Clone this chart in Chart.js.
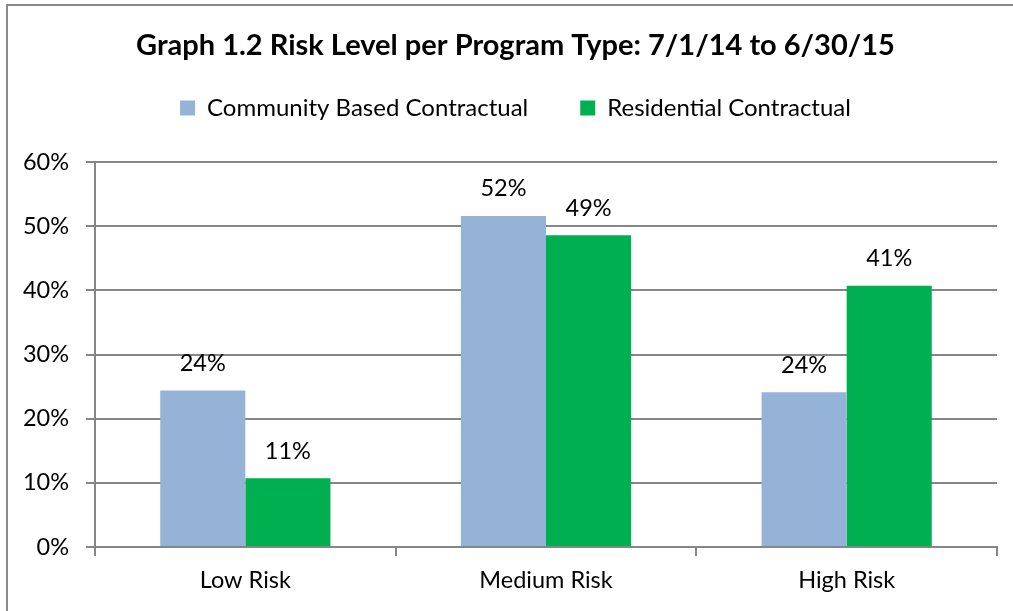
<!DOCTYPE html>
<html>
<head>
<meta charset="utf-8">
<script src="https://cdn.jsdelivr.net/npm/chart.js@4"></script>
<style>
  html, body { margin: 0; padding: 0; background: #fff; }
  #wrap { position: relative; width: 1013px; height: 611px; overflow: hidden; }
  #frame { position: absolute; left: 6px; top: 4px; width: 1020px; height: 700px; border-left: 2px solid #8a8a8a; border-top: 2px solid #8a8a8a; pointer-events: none; }
</style>
</head>
<body>
<div id="wrap">
  <canvas id="chart" width="1013" height="611"></canvas>
  <div id="frame"></div>
</div>
<script>
// data
const categories = ["Low Risk", "Medium Risk", "High Risk"];
const communityBased = [24.4, 51.6, 24.1];
const residential = [10.7, 48.6, 40.7];
const yTicks = [0, 10, 20, 30, 40, 50, 60];

const gridColor = "#868686";
const fontFamily = "Lato, 'Open Sans', sans-serif";
const textSize = 23.5;

// value labels above each bar
const barLabels = {
    id: "barLabels",
    afterDatasetsDraw(chart) {
        const ctx = chart.ctx;
        ctx.save();
        ctx.font = textSize + "px " + fontFamily;
        ctx.fillStyle = "#000";
        ctx.textAlign = "center";
        ctx.textBaseline = "middle";
        chart.data.datasets.forEach((ds, i) => {
            chart.getDatasetMeta(i).data.forEach((bar, j) => {
                ctx.fillText(Math.round(ds.data[j]) + "%", bar.x, bar.y - 27);
            });
        });
        ctx.restore();
    }
};

// title and legend sit a bit right of the canvas centre in the original
const shiftHeader = {
    id: "shiftHeader",
    afterLayout(chart) {
        chart.titleBlock.left += 34;
        chart.legend.left += 34;
    }
};

new Chart(document.getElementById("chart").getContext("2d"), {
    type: "bar",
    data: {
        labels: categories,
        datasets: [
            { label: "Community Based Contractual", data: communityBased, backgroundColor: "#95b3d7" },
            { label: "Residential Contractual", data: residential, backgroundColor: "#00b050" }
        ]
    },
    options: {
        responsive: false,
        animation: false,
        layout: { padding: { left: 0, right: 16, top: 0, bottom: 19 } },
        datasets: { bar: { categoryPercentage: 0.566, barPercentage: 1.0 } },
        plugins: {
            title: {
                display: true,
                text: "Graph 1.2 Risk Level per Program Type: 7/1/14 to 6/30/15",
                color: "#000",
                font: { family: fontFamily, size: 29, weight: "bold" },
                padding: { top: 28, bottom: -18.8 }
            },
            legend: {
                position: "top",
                labels: {
                    color: "#000",
                    font: { family: fontFamily, size: 24 },
                    boxWidth: 15,
                    boxHeight: 15,
                    padding: 52
                }
            },
            tooltip: { enabled: false }
        },
        scales: {
            x: {
                grid: { drawOnChartArea: false, color: gridColor, tickLength: 9, lineWidth: 2 },
                border: { color: gridColor, width: 2 },
                ticks: { color: "#000", font: { family: fontFamily, size: textSize }, padding: 10 },
                afterFit(scale) { scale.height = 45; }
            },
            spacer: {
                type: "category",
                position: "top",
                labels: categories,
                grid: { display: false },
                border: { display: false },
                ticks: { display: false },
                afterFit(scale) { scale.height = 32; }
            },
            y: {
                min: 0,
                max: 60,
                afterBuildTicks(scale) { scale.ticks = yTicks.map(v => ({ value: v })); },
                grid: { color: gridColor, tickLength: 9, lineWidth: 2 },
                border: { color: gridColor, width: 2 },
                ticks: {
                    color: "#000",
                    font: { family: fontFamily, size: textSize },
                    padding: 17,
                    callback: v => v + "%"
                },
                afterFit(scale) { scale.width = 95; }
            }
        }
    },
    plugins: [barLabels, shiftHeader]
});
</script>
</body>
</html>
